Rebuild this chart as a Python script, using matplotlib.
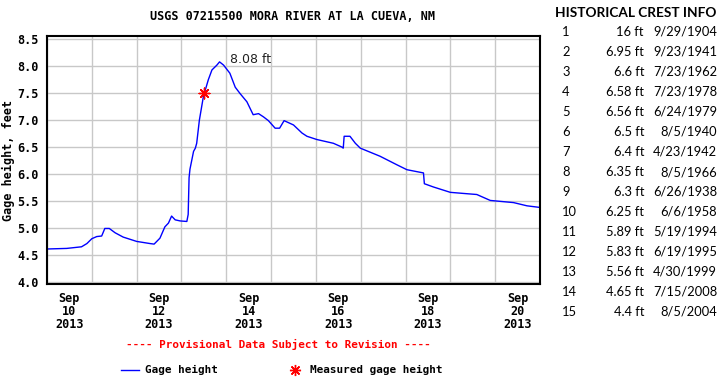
import matplotlib
matplotlib.use('Agg')
import matplotlib.pyplot as plt
import matplotlib.dates as mdates
import numpy as np
import pandas as pd
from matplotlib.lines import Line2D

gage_days = [0.00, 0.03, 0.44, 0.77, 0.89, 1.00, 1.11, 1.22, 1.29, 1.39, 1.52, 1.70,
             2.00, 2.30, 2.39, 2.52, 2.63, 2.71, 2.78, 2.86, 2.97, 3.12, 3.15, 3.17,
             3.19, 3.27, 3.31, 3.34, 3.40, 3.49, 3.60, 3.68, 3.79, 3.85, 3.94, 4.08,
             4.20, 4.31, 4.46, 4.60, 4.72, 4.83, 4.94, 5.09, 5.19, 5.29, 5.50, 5.69,
             5.80, 6.02, 6.39, 6.58, 6.61, 6.63, 6.65, 6.76, 6.88, 6.99, 7.43, 7.81,
             8.03, 8.40, 8.42, 8.62, 9.00, 9.29, 9.59, 9.89, 10.41, 10.71, 11.00]
gage_ft = [4.61, 4.61, 4.62, 4.65, 4.71, 4.80, 4.84, 4.85, 4.99, 4.99, 4.91, 4.83,
           4.75, 4.71, 4.70, 4.81, 5.02, 5.09, 5.22, 5.15, 5.13, 5.12, 5.25, 5.93,
           6.09, 6.42, 6.48, 6.57, 7.00, 7.44, 7.75, 7.93, 8.02, 8.08, 8.02, 7.87,
           7.61, 7.49, 7.34, 7.10, 7.12, 7.06, 6.99, 6.85, 6.85, 6.99, 6.91, 6.76,
           6.70, 6.64, 6.57, 6.50, 6.48, 6.70, 6.70, 6.70, 6.57, 6.48, 6.33, 6.17,
           6.08, 6.02, 5.82, 5.76, 5.66, 5.64, 5.62, 5.51, 5.47, 5.41, 5.38]

meas_day = [3.50]
meas_ft = [7.50]

peak_label = '8.08 ft'
tick_days = [0.5, 2.5, 4.5, 6.5, 8.5, 10.5]
tick_labels = ['Sep\n10\n2013', 'Sep\n12\n2013', 'Sep\n14\n2013',
               'Sep\n16\n2013', 'Sep\n18\n2013', 'Sep\n20\n2013']

crest_rank = list(range(1, 16))
crest_ft = ['16', '6.95', '6.6', '6.58', '6.56', '6.5', '6.4', '6.35', '6.3',
            '6.25', '5.89', '5.83', '5.56', '4.65', '4.4']
crest_date = ['9/29/1904', '9/23/1941', '7/23/1962', '7/23/1978', '6/24/1979',
              '8/5/1940', '4/23/1942', '8/5/1966', '6/26/1938', '6/6/1958',
              '5/19/1994', '6/19/1995', '4/30/1999', '7/15/2008', '8/5/2004']

start = pd.Timestamp('2013-09-10 00:00')
t = start + pd.to_timedelta(gage_days, unit='D')
tm = start + pd.to_timedelta(meas_day, unit='D')
tt = start + pd.to_timedelta(tick_days, unit='D')

mono = 'DejaVu Sans Mono'
fig = plt.figure(figsize=(7.2, 3.8), dpi=100)
ax = fig.add_axes([47/720, 1-284/380, 493/720, 248/380])

ax.plot(t, gage_ft, color='#0000ff', lw=1)
ax.scatter(tm, meas_ft, marker=(8, 2, 0), s=60, color='red', lw=1, zorder=3)
ax.annotate(peak_label, xy=(start + pd.Timedelta(days=4.08), 8.12),
            fontsize=9, family='DejaVu Sans', va='center', ha='left', color='#222222')

ax.set_xlim(start, start + pd.Timedelta(days=11))
ax.set_ylim(3.96, 8.56)
ax.set_yticks(np.arange(4.0, 8.51, 0.5))
ax.set_yticklabels(['%.1f' % v for v in np.arange(4.0, 8.51, 0.5)],
                   family=mono, fontweight='bold', fontsize=8.5)
ax.set_xticks(tt)
ax.set_xticklabels(tick_labels, family=mono, fontweight='bold', fontsize=8.5,
                   linespacing=1.0)
ax.xaxis.set_minor_locator(mdates.DayLocator())
ax.grid(True, which='minor', axis='x', color='#c8c8c8', lw=1)
ax.grid(True, which='major', axis='y', color='#c8c8c8', lw=1)
ax.tick_params(axis='both', which='both', length=0, pad=6)
ax.tick_params(axis='x', pad=6)
for s in ax.spines.values():
    s.set_linewidth(1.5)
ax.set_axisbelow(True)

ax.set_ylabel('Gage height, feet', family=mono, fontweight='bold', fontsize=8.5, labelpad=2)
fig.text(293/720, 1-16/380, 'USGS 07215500 MORA RIVER AT LA CUEVA, NM', family=mono,
         fontweight='bold', fontsize=8.5, ha='center', va='center')
fig.text(278/720, 1-344/380, '---- Provisional Data Subject to Revision ----',
         family=mono, fontweight='bold', fontsize=7.9, color='red', ha='center', va='center')

# legend, placed by hand like the original
fig.add_artist(Line2D([121/720, 139/720], [1-370/380, 1-370/380], color='#0000ff', lw=1))
fig.text(145/720, 1-370/380, 'Gage height', family=mono, fontweight='bold', fontsize=7.9,
         va='center', ha='left')
fig.add_artist(Line2D([295/720], [1-370/380], marker=(8, 2, 0), markersize=8,
                      color='red', mew=1, ls='none'))
fig.text(310/720, 1-370/380, 'Measured gage height', family=mono, fontweight='bold',
         fontsize=7.9, va='center', ha='left')

# historical crest table
tab = 'Lato'
fig.text(636/720, 1-13/380, 'HISTORICAL CREST INFO', family=tab, fontweight='bold',
         fontsize=9.8, ha='center', va='center')
for i in range(len(crest_rank)):
    y = 1 - (32 + 20*i)/380
    fig.text(562/720, y, str(crest_rank[i]), family=tab, fontsize=9.3, ha='left', va='center')
    fig.text(644/720, y, crest_ft[i] + ' ft', family=tab, fontsize=9.3, ha='right', va='center')
    fig.text(717/720, y, crest_date[i], family=tab, fontsize=9.3, ha='right', va='center')

fig.savefig('out.png', dpi=100)
